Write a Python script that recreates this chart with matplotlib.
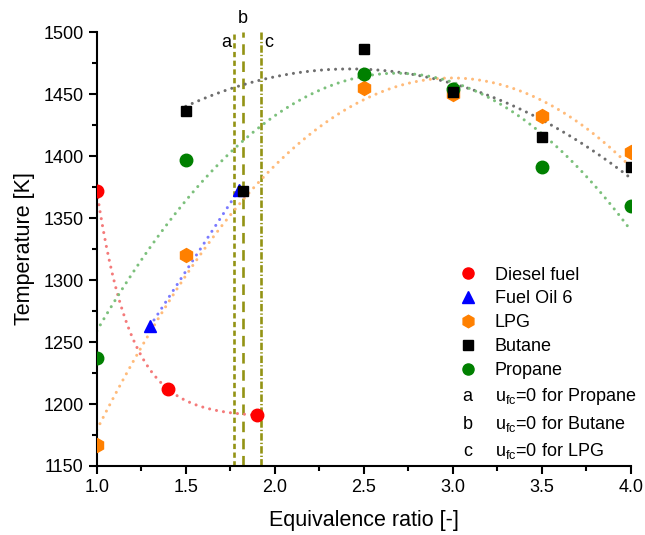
import matplotlib
matplotlib.use("Agg")
import matplotlib.pyplot as plt
import numpy as np
from matplotlib.lines import Line2D

plt.rcParams.update({
    "font.family": "Liberation Sans",
    "mathtext.fontset": "custom",
    "mathtext.rm": "Liberation Sans",
    "mathtext.it": "Liberation Sans",
    "font.size": 12,
})

# data
diesel_x = [1.0, 1.4, 1.9]
diesel_y = [1372, 1212, 1191]
oil_x = [1.3, 1.8]
oil_y = [1263, 1373]
lpg_x = [1.0, 1.5, 2.5, 3.0, 3.5, 4.0]
lpg_y = [1167, 1320, 1455, 1450, 1432, 1403]
butane_x = [1.5, 1.82, 2.5, 3.0, 3.5, 4.0]
butane_y = [1436, 1372, 1486, 1452, 1415, 1391]
propane_x = [1.0, 1.5, 2.5, 3.0, 3.5, 4.0]
propane_y = [1237, 1397, 1466, 1454, 1391, 1360]
ufc_x = [1.77, 1.82, 1.92]
ufc_tags = ["a", "b", "c"]
ufc_names = ["Propane", "Butane", "LPG"]

DOT = (0, (0.01, 2.3))


def expdec_fit(x, y):
    # three-point exponential decay y = c + A*exp(-k(x-x0))
    x = np.asarray(x, float)
    y = np.asarray(y, float)
    target = (y[1] - y[2]) / (y[0] - y[1])

    def ratio(k):
        e1 = np.exp(-k * (x[1] - x[0]))
        e2 = np.exp(-k * (x[2] - x[0]))
        return (e1 - e2) / (1 - e1)

    lo, hi = 1e-3, 50.0
    for _ in range(200):
        mid = 0.5 * (lo + hi)
        if ratio(mid) > target:
            lo = mid
        else:
            hi = mid
    k = 0.5 * (lo + hi)
    e1 = np.exp(-k * (x[1] - x[0]))
    A = (y[0] - y[1]) / (1 - e1)
    c = y[0] - A
    return lambda t: c + A * np.exp(-k * (t - x[0]))


fig = plt.figure(figsize=(6.45, 5.35), dpi=100)
ax = fig.add_axes([0.150, 0.129, 0.828, 0.811])

# fitted trend lines
f = expdec_fit(diesel_x, diesel_y)
t = np.linspace(1.0, 1.9, 200)
ax.plot(t, f(t), color="#f47a7a", lw=2.2, ls=DOT, dash_capstyle="round")

t = np.linspace(1.3, 1.8, 100)
p = np.polyfit(oil_x, oil_y, 1)
ax.plot(t, np.polyval(p, t), color="#7a7aff", lw=2.2, ls=DOT, dash_capstyle="round")

t = np.linspace(1.0, 4.0, 300)
p = np.polyfit(lpg_x, lpg_y, 2)
ax.plot(t, np.polyval(p, t), color="#ffbb7a", lw=2.2, ls=DOT, dash_capstyle="round")

bx = [x for x in butane_x if x != 1.82]
by = [y for x, y in zip(butane_x, butane_y) if x != 1.82]
t = np.linspace(1.5, 4.0, 300)
p = np.polyfit(bx, by, 2)
ax.plot(t, np.polyval(p, t), color="#6e6e6e", lw=2.2, ls=DOT, dash_capstyle="round")

t = np.linspace(1.0, 4.0, 300)
p = np.polyfit(propane_x, propane_y, 2)
ax.plot(t, np.polyval(p, t), color="#7cc07c", lw=2.2, ls=DOT, dash_capstyle="round")

# u_fc = 0 lines
olive = "#939314"
styles = [(0, (2.0, 1.3)), (0, (4.0, 2.5)), (0, (2.8, 0.8, 0.5, 0.8))]
for xv, st in zip(ufc_x, styles):
    ax.plot([xv, xv], [1150, 1500], color=olive, lw=1.9, ls=st, zorder=1)
ax.text(ufc_x[0] - 0.045, 1492, "a", ha="center", va="center", fontsize=13)
ax.text(ufc_x[1], 1511, "b", ha="center", va="center", fontsize=13)
ax.text(ufc_x[2] + 0.045, 1492, "c", ha="center", va="center", fontsize=13)

# data points
ax.plot(diesel_x, diesel_y, "o", color="#ff0000", ms=9, ls="none", zorder=5)
ax.plot(oil_x, oil_y, "^", color="#0000ff", ms=9, ls="none", zorder=5)
ax.plot(lpg_x, lpg_y, "h", color="#ff8000", ms=10, ls="none", zorder=5)
ax.plot(butane_x, butane_y, "s", color="#000000", ms=7.5, ls="none", zorder=6)
ax.plot(propane_x, propane_y, "o", color="#008000", ms=9, ls="none", zorder=5)

handles = [
    Line2D([], [], marker="o", color="#ff0000", ms=8, ls="none"),
    Line2D([], [], marker="^", color="#0000ff", ms=8, ls="none"),
    Line2D([], [], marker="h", color="#ff8000", ms=9, ls="none"),
    Line2D([], [], marker="s", color="#000000", ms=6.5, ls="none"),
    Line2D([], [], marker="o", color="#008000", ms=8, ls="none"),
]
labels = ["Diesel fuel", "Fuel Oil 6", "LPG", "Butane", "Propane"]
for name in ufc_names:
    handles.append(Line2D([], [], ls="none"))
    labels.append(r"u$_{\mathregular{fc}}$=0 for " + name)

leg = ax.legend(handles, labels, loc="lower right", bbox_to_anchor=(1.04, -0.025),
                frameon=False, fontsize=13, handletextpad=0.9, labelspacing=0.38,
                handlelength=1.2)

ax.set_xlim(1.0, 4.0)
ax.set_ylim(1150, 1500)
ax.set_xticks(np.arange(1.0, 4.01, 0.5))
ax.set_xticks(np.arange(1.25, 4.0, 0.5), minor=True)
ax.set_yticks(np.arange(1150, 1501, 50))
ax.set_yticks(np.arange(1175, 1500, 50), minor=True)
ax.set_xticklabels([f"{v:.1f}" for v in np.arange(1.0, 4.01, 0.5)])
ax.spines["top"].set_visible(False)
ax.spines["right"].set_visible(False)
for s in ["left", "bottom"]:
    ax.spines[s].set_linewidth(1.5)
ax.tick_params(which="major", direction="out", length=6, width=1.5, labelsize=13)
ax.tick_params(which="minor", direction="out", length=3.5, width=1.5)
ax.set_xlabel("Equivalence ratio [-]", fontsize=15.5, labelpad=10)
ax.set_ylabel("Temperature [K]", fontsize=15.5, labelpad=6)

# letters a/b/c in the legend's marker column
fig.canvas.draw()
for tag, txt in zip(ufc_tags, leg.get_texts()[5:]):
    bx0, by0 = txt.get_transform().transform(txt.get_position())
    fx, fy = fig.transFigure.inverted().transform((bx0 - 27, by0))
    fig.text(fx, fy, tag, ha="center", va="baseline", fontsize=13)

fig.savefig("out.png", dpi=100)
